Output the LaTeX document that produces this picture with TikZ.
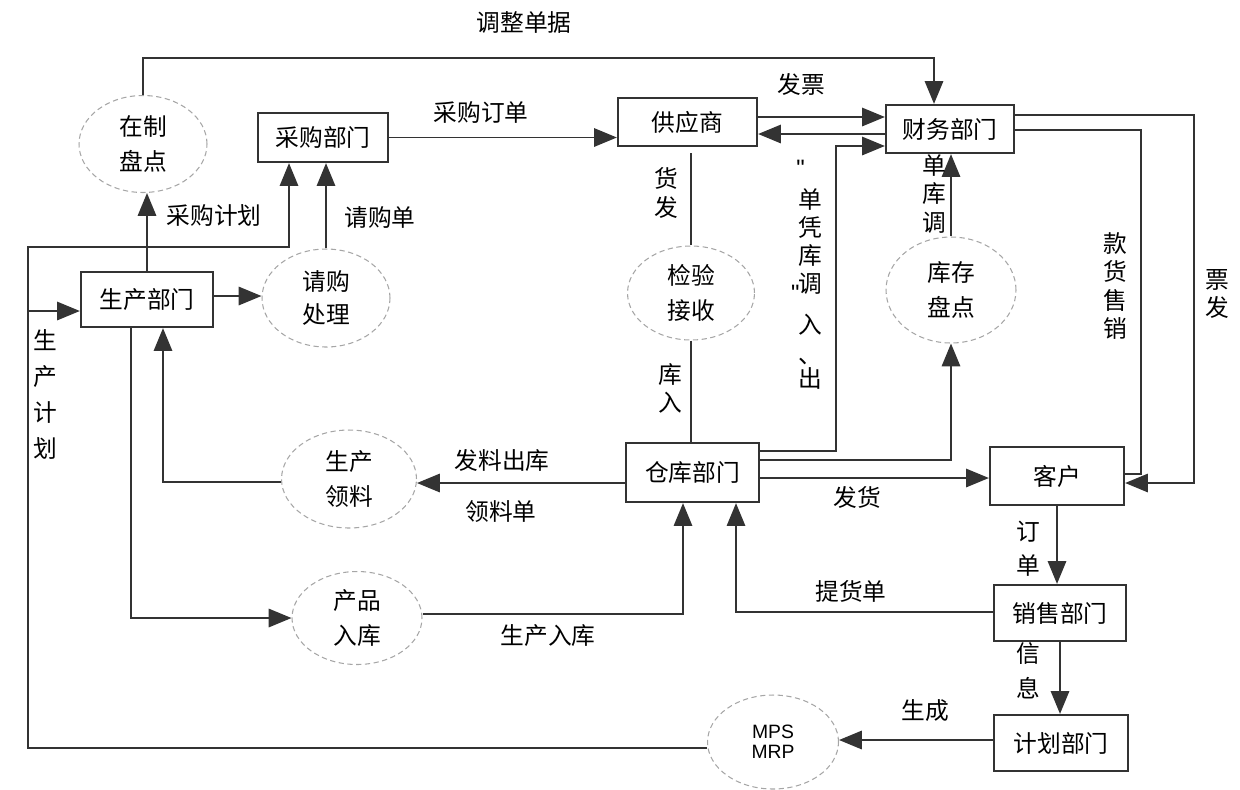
\documentclass[tikz,border=0pt]{standalone}
\usepackage{fontspec}
\setmainfont{Noto Sans CJK SC}
\newfontfamily\latinfont{Liberation Sans}
\usetikzlibrary{shapes.geometric,arrows.meta}

\begin{document}
\begin{tikzpicture}[x=0.02cm,y=-0.02cm,
    every node/.style={font=\fontsize{13.5}{16}\selectfont,inner sep=0pt},
    dept/.style={draw=black!80,line width=1.3pt,fill=white},
    proc/.style={ellipse,draw=black!35,line width=0.6pt,densely dashed,align=center},
    vlab/.style={align=center},
    line/.style={draw=black!80,line width=1pt},
    arr/.style={line,-{Triangle[length=13pt,width=10.5pt]}}]
                \useasboundingbox (0,0) rectangle (1240,789);

                % departments
                \node[dept,minimum width=2.6cm,minimum height=0.98cm] (cg) at (323,137.5) {采购部门};
                \node[dept,minimum width=2.64cm,minimum height=1.1cm] (sc) at (147,299.5) {生产部门};
                \node[dept,minimum width=2.78cm,minimum height=0.96cm] (gys) at (687.5,122) {供应商};
                \node[dept,minimum width=2.56cm,minimum height=0.96cm] (cw) at (950,129) {财务部门};
                \node[dept,minimum width=2.66cm,minimum height=1.18cm] (ck) at (692.5,472.5) {仓库部门};
                \node[dept,minimum width=2.68cm,minimum height=1.16cm] (kh) at (1057,476) {客户};
                \node[dept,minimum width=2.64cm,minimum height=1.12cm] (xs) at (1060,613) {销售部门};
                \node[dept,minimum width=2.68cm,minimum height=1.12cm] (jh) at (1061,743) {计划部门};

                % processes
                \node[proc,minimum width=2.56cm,minimum height=1.94cm] (zzpd) at (143,144) {在制\\[4pt]盘点};
                \node[proc,minimum width=2.56cm,minimum height=1.96cm] (qgcl) at (326,298) {请购\\[3pt]处理};
                \node[proc,minimum width=2.54cm,minimum height=1.88cm] (jyjs) at (691,293) {检验\\[4pt]接收};
                \node[proc,minimum width=2.6cm,minimum height=2.12cm] (kcpd) at (951,290) {库存\\[4pt]盘点};
                \node[proc,minimum width=2.7cm,minimum height=1.96cm] (scll) at (349,479) {生产\\[4pt]领料};
                \node[proc,minimum width=2.6cm,minimum height=1.86cm] (cprk) at (357,618) {产品\\[4pt]入库};
                \node[proc,minimum width=2.62cm,minimum height=1.88cm,font=\latinfont\fontsize{11}{11.5}\selectfont] (mps) at (773,742) {MPS\\MRP};

                % flows
                \draw[arr] (zzpd.north) -- (zzpd.north |- 0,58) -| (cw.north -| 934,0);
                \path (cg.east) edge[arr] (gys.west |- cg.east);
                \path (gys.east |- 0,117) edge[arr] (cw.west |- 0,117);
                \path (cw.west |- 0,134) edge[arr] (gys.east |- 0,134);
                \draw[arr] (ck.east |- 0,451) -| (836,146) -- (cw.west |- 0,146);
                \path (kcpd.north) edge[arr] (kcpd.north |- cw.south);
                \draw[arr] (ck.east |- 0,460) -| (kcpd.south);
                \path (ck.east |- 0,478) edge[arr] (kh.west |- 0,478);
                \draw[line] (cw.east |- 0,130) -| (1141,474) -- (kh.east |- 0,474);
                \draw[arr] (cw.east |- 0,115) -| (1194,483) -- (kh.east |- 0,483);
                \path (kh.south) edge[arr] (kh.south |- xs.north);
                \draw[arr] (xs.west |- 0,612) -| (ck.south -| 736,0);
                \path (xs.south) edge[arr] (xs.south |- jh.north);
                \path (jh.west |- 0,740) edge[arr] (mps.east |- 0,740);
                \draw[arr] (mps.west |- 0,748) -| (28,247) -| (cg.south -| 289,0);
                \coordinate (fz) at (28,311);
                \path (fz) edge[arr] (sc.west |- fz);
                \path (sc.north) edge[arr] (sc.north |- zzpd.south);
                \path (qgcl.north) edge[arr] (qgcl.north |- cg.south);
                \path (sc.east |- 0,296) edge[arr] (qgcl.west |- 0,296);
                \path (jyjs.north |- 0,153) edge[line] (jyjs.north);
                \path (jyjs.south) edge[line] (jyjs.south |- ck.north);
                \path (ck.west |- 0,483) edge[arr] (scll.east |- 0,483);
                \draw[arr] (scll.west |- 0,482) -| (sc.south -| 163,0);
                \draw[arr] (sc.south -| 131,0) |- (cprk.west);
                \draw[arr] (cprk.east |- 0,614) -| (ck.south -| 683,0);

                % labels
                \node (tzdj) at (524,22) {调整单据};
                \node (cgdd) at (481,112) {采购订单};
                \node (fp) at (801,84) {发票};
                \node (cgjh) at (214,215) {采购计划};
                \node (qgd) at (380,217) {请购单};
                \node (flck) at (502,460) {发料出库};
                \node (lld) at (501,512) {领料单};
                \node (fh) at (857,497) {发货};
                \node (scrk) at (548,636) {生产入库};
                \node (thd) at (851,591) {提货单};
                \node (shch) at (925,711) {生成};
                \node[vlab] (hf) at (666,193) {货\\发};
                \node[vlab] (kr) at (670,388) {库\\入};
                \node[vlab] (dkd) at (934,194) {单\\库\\调};
                \node[vlab] (xshk) at (1115,286) {款\\货\\售\\销};
                \node[vlab] (pf) at (1217,294) {票\\发};
                \node[vlab] (scjh) at (45,394) {生\\[4.5pt]产\\[4.5pt]计\\[4.5pt]划};
                \node[vlab] (dd) at (1028,549) {订\\[3.5pt]单};
                \node[vlab] (xx) at (1028,671) {信\\[4pt]息};
                \node[vlab] (crpz) at (810,275) {\makebox[0pt][r]{\latinfont\char34\hspace{3pt}}\\[2pt]单\\凭\\库\\调\\[-11pt]\makebox[0pt][r]{\latinfont\char34\hspace{6pt}}\\[2pt]入\\[1pt]、\\[-2pt]出};
            \end{tikzpicture}
\end{document}
